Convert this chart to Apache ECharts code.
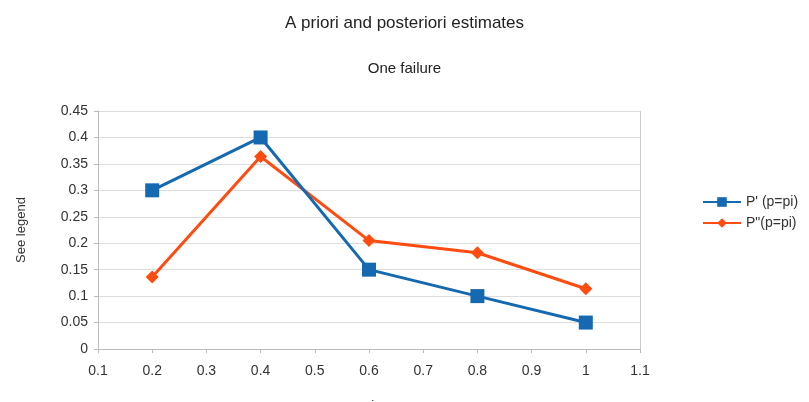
<!DOCTYPE html>
<html lang="en">
<head>
    <meta charset="UTF-8">
    <title>A priori and posteriori estimates</title>
    <script src="https://cdn.jsdelivr.net/npm/echarts@6.0.0/dist/echarts.min.js"></script>
    <style>
        html, body { margin: 0; padding: 0; background: #fff; }
        #chart { width: 809px; height: 402px; }
    </style>
</head>
<body>
    <div id="chart"></div>
    <script>
        // p values on the x axis
        var pValues = [0.2, 0.4, 0.6, 0.8, 1.0];
        // a priori P'
        var priorValues = [0.3, 0.4, 0.15, 0.1, 0.05];
        // a posteriori P''
        var posteriorValues = [0.136, 0.364, 0.205, 0.182, 0.114];

        var seriesNames = ["P' (p=pi)", "P\"(p=pi)"];

        function pairs(xs, ys) {
            return xs.map(function (x, i) { return [x, ys[i]]; });
        }

        var chart = echarts.init(document.getElementById('chart'));

        var option = {
            backgroundColor: '#fff',
            textStyle: { fontFamily: 'Liberation Sans, Arial, sans-serif' },
            title: [
                { text: 'A priori and posteriori estimates', left: 'center', top: 10,
                  textStyle: { fontSize: 17, fontWeight: 'normal', color: '#222' } },
                { text: 'One failure', left: 'center', top: 56,
                  textStyle: { fontSize: 15, fontWeight: 'normal', color: '#222' } }
            ],
            legend: {
                orient: 'vertical',
                left: 697,
                top: 190,
                itemWidth: 38,
                itemHeight: 12,
                itemGap: 7,
                textStyle: { fontSize: 14, color: '#333' },
                data: seriesNames
            },
            grid: { left: 98, right: 169, top: 111, bottom: 53, outerBoundsMode: 'none' },
            xAxis: {
                type: 'value',
                min: 0.1,
                max: 1.1,
                interval: 0.1,
                name: 'pi',
                nameLocation: 'middle',
                nameGap: 50,
                nameTextStyle: { fontSize: 13, color: '#333' },
                axisLine: { lineStyle: { color: '#bbb' } },
                axisTick: { show: true, length: 4, lineStyle: { color: '#bbb' } },
                axisLabel: { fontSize: 14, color: '#333', margin: 15,
                    formatter: function (v) { return String(+v.toFixed(1)); } },
                splitLine: { show: false }
            },
            yAxis: {
                type: 'value',
                min: 0,
                max: 0.45,
                interval: 0.05,
                name: 'See legend',
                nameLocation: 'middle',
                nameGap: 70,
                nameTextStyle: { fontSize: 13, color: '#333' },
                axisLine: { show: true, lineStyle: { color: '#bbb' } },
                axisTick: { show: true, length: 4, lineStyle: { color: '#bbb' } },
                axisLabel: { fontSize: 14, color: '#333', margin: 10,
                    formatter: function (v) { return String(+v.toFixed(2)); } },
                splitLine: { lineStyle: { color: '#ddd', width: 1 } }
            },
            series: [
                {
                    name: seriesNames[0],
                    type: 'line',
                    data: pairs(pValues, priorValues),
                    symbol: 'rect',
                    symbolSize: 14,
                    color: '#1469b1',
                    lineStyle: { width: 3 },
                    z: 3
                },
                {
                    name: seriesNames[1],
                    type: 'line',
                    data: pairs(pValues, posteriorValues),
                    symbol: 'diamond',
                    symbolSize: 13,
                    color: '#ff4c10',
                    lineStyle: { width: 3 },
                    z: 2
                },
                {
                    // right border of the plot area
                    type: 'line',
                    silent: true,
                    data: [],
                    markLine: {
                        silent: true,
                        symbol: 'none',
                        label: { show: false },
                        lineStyle: { color: '#ccc', type: 'solid', width: 1 },
                        data: [{ xAxis: 1.1 }]
                    }
                }
            ]
        };

        chart.setOption(option);
    </script>
</body>
</html>
